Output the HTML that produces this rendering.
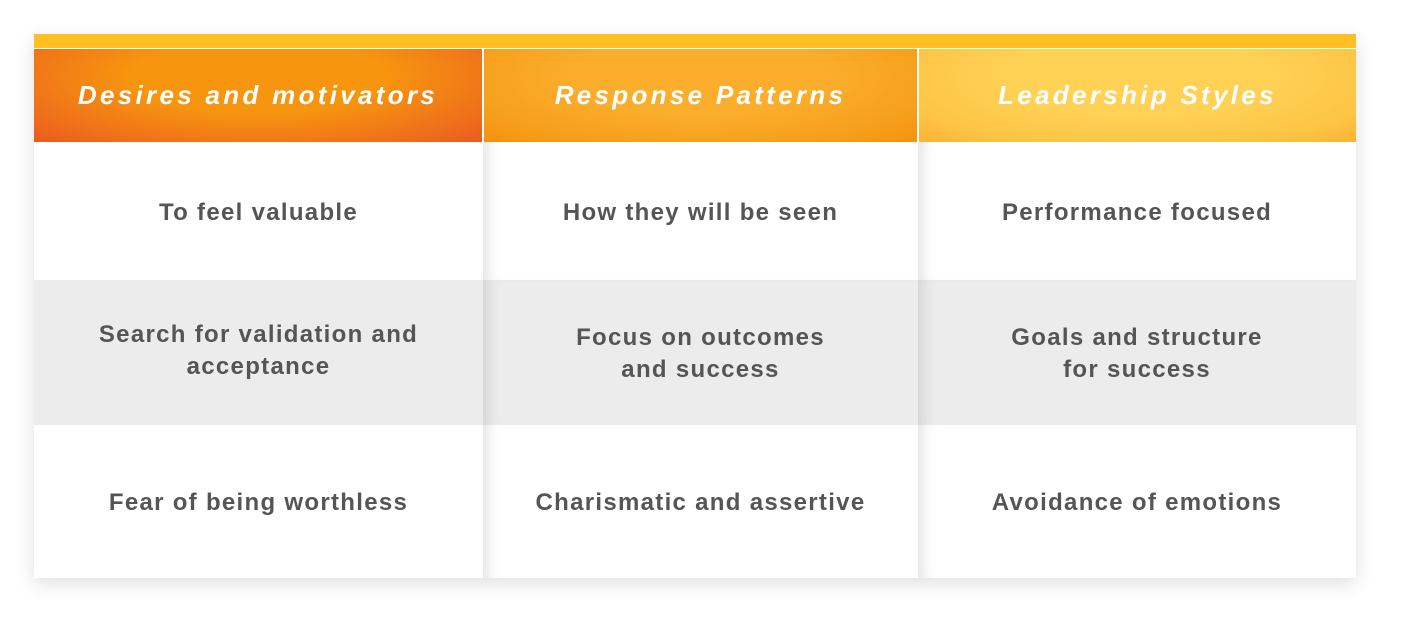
<!DOCTYPE html>
<html><head><meta charset="utf-8"><style>
html,body{margin:0;padding:0;background:#fff;width:1402px;height:625px;overflow:hidden;font-family:"Liberation Sans",sans-serif;}
#tbl{position:absolute;left:34px;top:34px;width:1322px;height:544px;box-shadow:0 6px 18px rgba(0,0,0,0.12);background:#fff;}
#bar{position:absolute;left:0;top:0;width:1322px;height:14px;background:#fec022;}
.h{position:absolute;top:15px;height:93px;color:#fff;font-weight:bold;font-style:italic;font-size:26px;letter-spacing:3.3px;display:flex;align-items:center;justify-content:center;}
.c{position:absolute;display:flex;align-items:center;justify-content:center;text-align:center;color:#555;font-size:24px;font-weight:bold;letter-spacing:1.3px;line-height:32px;padding-top:3px;box-sizing:border-box;}
.g{background:#ececec;}
.sh{box-shadow:inset 14px 0 14px -10px rgba(0,0,0,0.12);}
</style></head><body>
<div id="tbl">
<div id="bar"></div>
<div class="h" style="left:0;width:448px;background:radial-gradient(ellipse at 50% 30%,#f7950f 40%,#ee6a1c 85%,#ea5a1e 100%);">Desires and motivators</div>
<div class="h" style="left:450px;width:433px;background:radial-gradient(ellipse at 50% 30%,#fbae2c 40%,#f69e1b 80%,#f4910f 100%);">Response Patterns</div>
<div class="h" style="left:885px;width:437px;background:radial-gradient(ellipse at 50% 30%,#ffd256 40%,#fec444 80%,#fbb334 100%);">Leadership Styles</div>

<div class="c" style="left:0;top:108px;width:449px;height:138px;">To feel valuable</div>
<div class="c sh" style="left:449px;top:108px;width:435px;height:138px;">How they will be seen</div>
<div class="c sh" style="left:884px;top:108px;width:438px;height:138px;">Performance focused</div>

<div class="c g" style="left:0;top:246px;width:449px;height:145px;"><div style="margin-top:-6px">Search for validation and<br>acceptance</div></div>
<div class="c g sh" style="left:449px;top:246px;width:435px;height:145px;">Focus on outcomes<br>and success</div>
<div class="c g sh" style="left:884px;top:246px;width:438px;height:145px;">Goals and structure<br>for success</div>

<div class="c" style="left:0;top:391px;width:449px;height:153px;">Fear of being worthless</div>
<div class="c sh" style="left:449px;top:391px;width:435px;height:153px;">Charismatic and assertive</div>
<div class="c sh" style="left:884px;top:391px;width:438px;height:153px;">Avoidance of emotions</div>
</div>
</body></html>
